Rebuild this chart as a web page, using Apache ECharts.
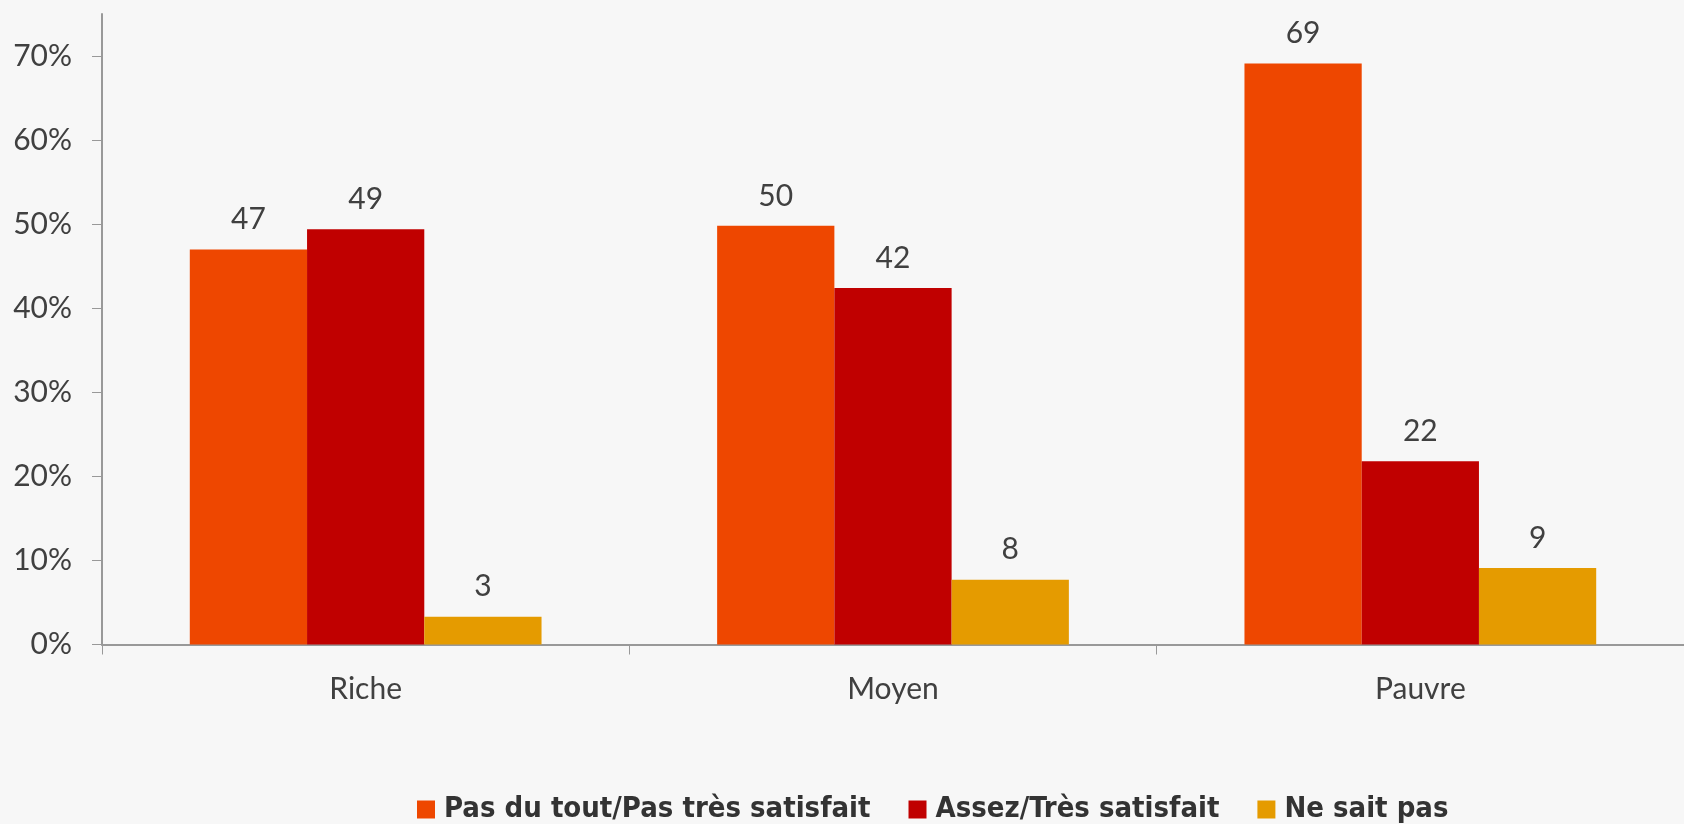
<!DOCTYPE html>
<html>
<head>
<meta charset="utf-8">
<script src="https://cdn.jsdelivr.net/npm/echarts@6/dist/echarts.min.js"></script>
<style>
html,body{margin:0;padding:0;background:#f7f7f7;}
#chart{width:1684px;height:824px;}
</style>
</head>
<body>
<div id="chart"></div>
<script>
const categories = ['Riche', 'Moyen', 'Pauvre'];
const seriesNames = ['Pas du tout/Pas très satisfait', 'Assez/Très satisfait', 'Ne sait pas'];
const pasSatisfait = [47.0, 49.8, 69.1];
const satisfait = [49.4, 42.4, 21.8];
const neSaitPas = [3.3, 7.7, 9.1];
const yTicks = [0, 10, 20, 30, 40, 50, 60, 70];
const colors = ['#EE4700', '#C00000', '#E59B00'];

const chart = echarts.init(document.getElementById('chart'), null, {renderer: 'canvas'});
const labelFont = 'Lato, "Open Sans", sans-serif';
function mk(name, data, color) {
  return {
    name: name, type: 'bar', data: data, barGap: '0%', barCategoryGap: '33.3%',
    itemStyle: {color: color},
    label: {show: true, position: 'top', distance: 15, color: '#404040',
      fontFamily: labelFont, fontSize: 30,
      formatter: p => Math.round(p.value)}
  };
}
chart.setOption({
  backgroundColor: '#f7f7f7',
  animation: false,
  grid: {left: 102, right: -10.5, top: 14, bottom: 179.5, containLabel: false},
  legend: {
    left: 412, top: 790, itemWidth: 18, itemHeight: 18, itemGap: 38,
    icon: 'rect',
    textStyle: {fontFamily: '"Liberation Sans Narrow", "DejaVu Sans Condensed", sans-serif', fontWeight: 'bold', fontSize: 29, color: '#333', padding: [0, 0, 0, 4]},
    data: seriesNames
  },
  xAxis: {
    type: 'category', data: categories,
    axisLine: {lineStyle: {color: '#999', width: 2}},
    axisTick: {show: true, length: 10, lineStyle: {color: '#999', width: 1}},
    axisLabel: {color: '#404040', fontFamily: labelFont, fontSize: 30, margin: 30}
  },
  yAxis: {
    type: 'value', min: 0, max: 75, interval: 5,
    splitLine: {show: false},
    axisLine: {show: true, lineStyle: {color: '#999', width: 2}},
    axisTick: {show: true, length: 10, customValues: yTicks, lineStyle: {color: '#999', width: 1}},
    axisLabel: {color: '#404040', fontFamily: labelFont, fontSize: 30, margin: 30,
      customValues: yTicks, formatter: v => v + '%'}
  },
  series: [
    mk(seriesNames[0], pasSatisfait, colors[0]),
    mk(seriesNames[1], satisfait, colors[1]),
    mk(seriesNames[2], neSaitPas, colors[2])
  ]
});
</script>
</body>
</html>
